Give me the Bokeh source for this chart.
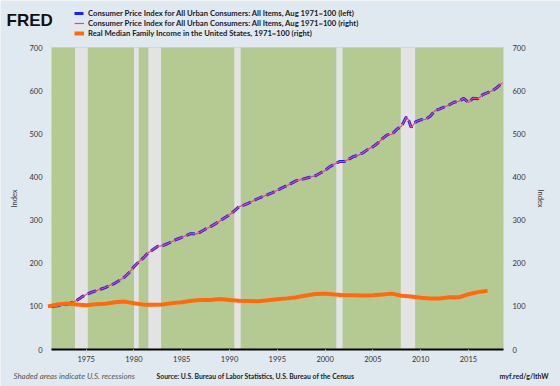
from bokeh.plotting import figure
from bokeh.models import (LinearAxis, Range1d, FixedTicker, Label, Legend,
                          LegendItem, BoxAnnotation)
from bokeh.embed import file_html
from bokeh.resources import INLINE

# ---------------- data ----------------
cpi_dates = [1971.37, 1971.58, 1972.0, 1972.5, 1973.0, 1973.5, 1974.0, 1974.5,
             1975.0, 1975.5, 1976.0, 1976.5, 1977.0, 1977.5, 1978.0, 1978.5,
             1979.0, 1979.5, 1980.0, 1980.5, 1981.0, 1981.5, 1982.0, 1982.5,
             1983.0, 1983.5, 1984.0, 1984.5, 1985.0, 1985.5, 1986.0, 1986.5,
             1987.0, 1987.5, 1988.0, 1988.5, 1989.0, 1989.5, 1990.0, 1990.5,
             1991.0, 1991.5, 1992.0, 1992.5, 1993.0, 1993.5, 1994.0, 1994.5,
             1995.0, 1995.5, 1996.0, 1996.5, 1997.0, 1997.5, 1998.0, 1998.5,
             1999.0, 1999.5, 2000.0, 2000.5, 2001.0, 2001.5, 2002.0, 2002.5,
             2003.0, 2003.5, 2004.0, 2004.5, 2005.0, 2005.5, 2006.0, 2006.5,
             2007.0, 2007.5, 2008.0, 2008.5, 2008.75, 2009.0, 2009.25, 2009.5,
             2010.0, 2010.5, 2011.0, 2011.5, 2012.0, 2012.5, 2013.0, 2013.5,
             2014.0, 2014.5, 2015.0, 2015.5, 2016.0, 2016.5, 2017.0, 2017.5,
             2018.0, 2018.58]
cpi_index = [99.3, 100.0, 101.5, 102.7, 104.9, 108.6, 113.7, 121.3,
             127.5, 132.1, 136.0, 139.7, 143.6, 148.8, 153.4, 160.3,
             167.4, 178.4, 191.9, 203.4, 212.7, 224.5, 231.6, 239.2,
             240.7, 245.1, 250.5, 255.6, 259.8, 264.7, 269.1, 267.4,
             272.8, 279.4, 284.6, 291.2, 298.0, 305.4, 312.5, 321.1,
             331.1, 334.6, 339.2, 344.9, 350.0, 354.9, 358.8, 363.7,
             369.1, 374.5, 379.7, 385.5, 391.4, 393.9, 396.8, 400.0,
             402.7, 409.1, 414.7, 424.0, 429.9, 435.5, 435.5, 441.4,
             447.5, 450.5, 456.4, 464.5, 469.6, 478.2, 488.6, 497.5,
             498.9, 510.3, 517.4, 539.1, 531.0, 515.2, 521.3, 527.9,
             532.4, 533.6, 540.9, 553.6, 557.6, 562.2, 567.2, 573.0,
             575.4, 582.1, 572.5, 582.6, 581.3, 590.6, 595.3, 599.9,
             607.4, 618.6]

income_years = [1971, 1972, 1973, 1974, 1975, 1976, 1977, 1978, 1979, 1980,
                1981, 1982, 1983, 1984, 1985, 1986, 1987, 1988, 1989, 1990,
                1991, 1992, 1993, 1994, 1995, 1996, 1997, 1998, 1999, 2000,
                2001, 2002, 2003, 2004, 2005, 2006, 2007, 2008, 2009, 2010,
                2011, 2012, 2013, 2014, 2015, 2016, 2017]
income_index = [100.0, 104.5, 106.5, 104.5, 102.5, 105.0, 106.0, 109.5, 111.0, 107.0,
                104.0, 103.5, 104.5, 107.5, 109.5, 113.0, 114.5, 115.0, 117.0, 115.0,
                113.0, 112.5, 112.0, 114.0, 116.5, 118.5, 121.0, 125.0, 128.5, 129.5,
                127.5, 126.0, 125.5, 125.0, 126.0, 127.5, 129.5, 124.5, 123.0, 120.0,
                118.0, 118.0, 121.0, 121.0, 128.0, 133.0, 136.0]

rec_start = [1973.83, 1980.0, 1981.5, 1990.5, 2001.17, 2007.92]
rec_end = [1975.17, 1980.5, 1982.83, 1991.17, 2001.83, 2009.42]

x_ticks = [1975, 1980, 1985, 1990, 1995, 2000, 2005, 2010, 2015]
y_ticks = [0, 100, 200, 300, 400, 500, 600, 700]

legend_labels = [
    "Consumer Price Index for All Urban Consumers: All Items, Aug 1971=100 (left)",
    "Consumer Price Index for All Urban Consumers: All Items, Aug 1971=100 (right)",
    "Real Median Family Income in the United States, 1971=100 (right)",
]

# ---------------- layout / styles ----------------
W, H = 560, 386
X0, X1 = 1971.37, 2018.67          # shown date span
Y0, Y1 = 0, 700                     # shown value span
PL, PR, PT, PB = 51, 503, 47, 349   # plot-area pixels inside the canvas
xs = (PR - PL) / (X1 - X0)
ys = (PB - PT) / (Y1 - Y0)

PAGE_BG = "#e1e9f0"
PLOT_BG = "#b5ca93"
REC_COL = "#e3e3e3"
GRID_COL = "#d3dec2"
BLUE = "#1f1fff"
PINK = "#e8457a"
ORANGE = "#ff6a10"
FONT = "Lato"
TXT = "#333333"

p = figure(width=W, height=H,
           x_range=Range1d(X0 - PL / xs, X1 + (W - PR) / xs),
           y_range=Range1d(Y0 - (H - PB) / ys, Y1 + PT / ys),
           output_backend="svg", toolbar_location=None,
           min_border=0, min_border_left=0, min_border_right=0,
           min_border_top=0, min_border_bottom=0)
p.background_fill_color = PAGE_BG
p.border_fill_color = PAGE_BG
p.outline_line_color = None

# plot area background
p.add_layout(BoxAnnotation(left=X0, right=X1, bottom=Y0, top=Y1,
                           fill_color=PLOT_BG, fill_alpha=1, line_color=None,
                           level="underlay"))

# grid (only inside plot area)
p.xgrid.visible = False
g = p.ygrid[0]
g.ticker = FixedTicker(ticks=y_ticks)
g.grid_line_color = GRID_COL
g.grid_line_width = 1
g.level = "underlay"
try:
    g.cross_bounds = (X0, X1)
except Exception:
    g.visible = False
    p.segment(x0=[X0] * len(y_ticks), x1=[X1] * len(y_ticks), y0=y_ticks,
              y1=y_ticks, line_color=GRID_COL, line_width=1)

# recessions and series
p.quad(left=rec_start, right=rec_end, bottom=Y0, top=Y1,
       fill_color=REC_COL, line_color=None)
r1 = p.line(cpi_dates, cpi_index, line_color=BLUE, line_width=3, line_dash="9 4")
r2 = p.line(cpi_dates, cpi_index, line_color=PINK, line_width=1.2)
r3 = p.line(income_years, income_index, line_color=ORANGE, line_width=4)

# x axis drawn at value 0
xa = p.xaxis[0]
xa.fixed_location = Y0
xa.bounds = (X0, X1)
xa.ticker = FixedTicker(ticks=x_ticks)
xa.axis_line_color = "#000000"
xa.axis_line_width = 2
xa.major_tick_out = 3
xa.major_tick_in = 0
xa.major_tick_line_color = "#c9ced3"
xa.minor_tick_line_color = None
xa.major_label_standoff = 3
xa.major_label_text_font = FONT
xa.major_label_text_font_size = "7.5px"
xa.major_label_text_color = TXT

# y axes at the plot-area edges
ya = p.yaxis[0]
ya.fixed_location = X0
ra = LinearAxis(fixed_location=X1)
p.add_layout(ra, "right")
for ax in (ya, ra):
    ax.bounds = (Y0, Y1)
    ax.ticker = FixedTicker(ticks=y_ticks)
    ax.axis_line_color = None
    ax.major_tick_line_color = None
    ax.minor_tick_line_color = None
    ax.major_tick_out = 0
    ax.major_tick_in = 0
    ax.major_label_standoff = 9
    ax.major_label_text_font = FONT
    ax.major_label_text_font_size = "7.5px"
    ax.major_label_text_color = TXT
    ax.axis_label = "Index"
    ax.axis_label_standoff = 7
    ax.axis_label_text_font = FONT
    ax.axis_label_text_font_size = "7.5px"
    ax.axis_label_text_font_style = "normal"
    ax.axis_label_text_color = TXT

# legend (screen position from canvas bottom-left)
legend = Legend(items=[LegendItem(label=legend_labels[0], renderers=[r1]),
                       LegendItem(label=legend_labels[1], renderers=[r2]),
                       LegendItem(label=legend_labels[2], renderers=[r3])],
                location=(74, H - 38), glyph_width=10, glyph_height=10,
                label_height=10, spacing=0, padding=0, margin=0,
                label_standoff=4, background_fill_alpha=0,
                border_line_color=None,
                label_text_font=FONT, label_text_font_style="bold",
                label_text_font_size="7.7px", label_text_color="#1a1a2a")
p.add_layout(legend)


def lab(x, y, t, **kw):
    opts = dict(x=x, y=H - y, x_units="screen", y_units="screen", text=t,
                text_font=FONT, text_font_size="7px", text_color=TXT,
                text_baseline="middle")
    opts.update(kw)
    p.add_layout(Label(**opts))


lab(6, 20, "FRED", text_font="Liberation Sans", text_font_style="bold",
    text_font_size="17px", text_color="#111111", text_baseline="alphabetic")
lab(13, 375, "Shaded areas indicate U.S. recessions",
    text_font_style="italic", text_font_size="7.9px", text_color="#555555")
lab(156, 375, "Source: U.S. Bureau of Labor Statistics, U.S. Bureau of the Census",
    text_font_style="bold", text_font_size="6.85px", text_color="#222222")
lab(548, 375, "myf.red/g/lthW", text_align="right",
    text_font_style="bold", text_font_size="7px", text_color="#222222")

open("out.html", "w").write(file_html(p, INLINE))
